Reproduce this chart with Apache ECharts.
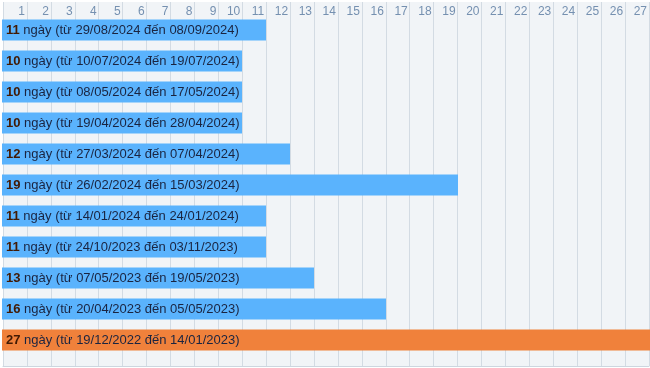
<!DOCTYPE html>
<html><head><meta charset="utf-8">
<script src="https://cdn.jsdelivr.net/npm/echarts@6/dist/echarts.min.js"></script>
<style>html,body{margin:0;padding:0;background:#fff}#c{width:650px;height:368px}</style>
</head><body><div id="c"></div>
<script>
var days = [11, 10, 10, 10, 12, 19, 11, 11, 13, 16, 27];
var startDates = ["29/08/2024","10/07/2024","08/05/2024","19/04/2024","27/03/2024","26/02/2024","14/01/2024","24/10/2023","07/05/2023","20/04/2023","19/12/2022"];
var endDates = ["08/09/2024","19/07/2024","17/05/2024","28/04/2024","07/04/2024","15/03/2024","24/01/2024","03/11/2023","19/05/2023","05/05/2023","14/01/2023"];
var highlightIndex = 10;
var axisMax = 27;

var cats = days.map(function(d,i){return 'r'+i;});
var FONT = 'Arial, "Liberation Sans", sans-serif';
var chart = echarts.init(document.getElementById('c'));
chart.setOption({
  backgroundColor: '#ffffff',
  animation: false,
  grid: [
    {left: 2, right: 0, top: 14.5, bottom: 12.5},
    {left: 2, right: 0, top: 2, bottom: 2, show: true, backgroundColor: '#f1f4f7', borderWidth: 0, z: 0}
  ],
  xAxis: [
    {gridIndex: 0, type: 'value', min: 0, max: axisMax, interval: 1, show: false},
    {gridIndex: 1, type: 'value', min: 0, max: axisMax, interval: 1, position: 'top',
     axisLine: {show: true, lineStyle: {color: '#cdd6df', width: 1}},
     axisTick: {show: false},
     splitLine: {show: true, lineStyle: {color: '#d3dbe3', width: 1}},
     axisLabel: {inside: true, margin: 4, align: 'right', padding: [0, 2, 0, 0],
       color: '#7590b0', fontSize: 12, fontFamily: FONT,
       formatter: function(v){ return v === 0 ? '' : String(v); }}
    }
  ],
  yAxis: [
    {gridIndex: 0, type: 'category', data: cats, inverse: true, show: false},
    {gridIndex: 1, type: 'value', min: 0, max: 1, show: true,
     axisLine: {show: false}, axisTick: {show: false}, axisLabel: {show: false}, splitLine: {show: false}}
  ],
  series: [{
    type: 'bar',
    xAxisIndex: 0, yAxisIndex: 0,
    barWidth: 21,
    z: 5,
    data: days.map(function(d, i){
      return {value: d, itemStyle: {color: i === highlightIndex ? '#f0813b' : '#5ab3fd'}};
    }),
    label: {
      show: true, position: 'insideLeft', distance: 4,
      fontFamily: FONT, fontSize: 13,
      formatter: function(p){
        var i = p.dataIndex;
        return '{b|' + days[i] + '}{n| ngày (từ ' + startDates[i] + ' đến ' + endDates[i] + ')}';
      },
      rich: {
        b: {fontWeight: 'bold', color: '#421a04', fontSize: 13, fontFamily: FONT},
        n: {color: '#1a2440', fontSize: 13, fontFamily: FONT}
      }
    }
  }]
});
</script></body></html>
